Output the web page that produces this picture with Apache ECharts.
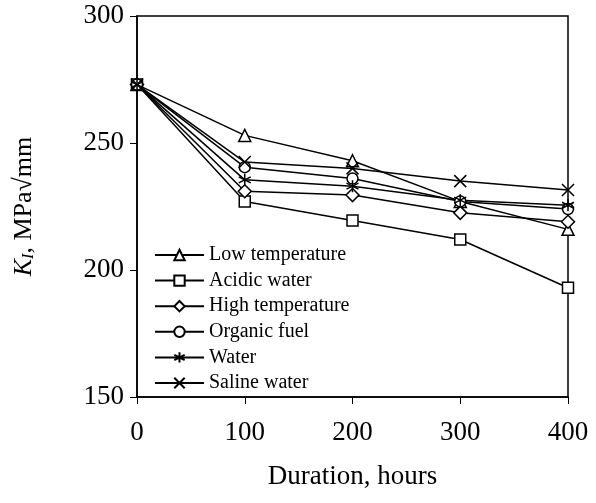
<!DOCTYPE html>
<html><head><meta charset="utf-8">
<script src="https://cdn.jsdelivr.net/npm/echarts@6/dist/echarts.min.js"></script>
<style>html,body{margin:0;padding:0;background:#fff}#c{width:596px;height:503px}</style>
</head><body><div id="c"></div>
<script>
const durations = [0, 100, 200, 300, 400];
const lowTemperature = [273, 253, 243, 227, 216];
const acidicWater = [273, 227, 219.5, 212, 193];
const highTemperature = [273, 231, 229.5, 222.5, 219];
const organicFuel = [273, 240.5, 236, 227, 224];
const water = [273, 235.5, 233, 227.5, 225.5];
const salineWater = [273, 242.5, 240, 235, 231.5];
const yTicks = [150, 200, 250, 300];
const xTicks = [0, 100, 200, 300, 400];

const F = '"Liberation Serif","Times New Roman",serif';
const X_PATH = 'path://M0,0L10,10M10,0L0,10';
const STAR_PATH = 'path://M5,0L5,10M0.7,2.5L9.3,7.5M0.7,7.5L9.3,2.5';

function mk(name, vals, symbol, size) {
  return {
    name, type: 'line', data: durations.map((d, i) => [d, vals[i]]),
    symbol, symbolSize: size, showAllSymbol: true,
    lineStyle: { color: '#000', width: 1.5 },
    itemStyle: { color: '#fff', borderColor: '#000', borderWidth: 1.5 },
    emphasis: { disabled: true }, animation: false
  };
}
const chart = echarts.init(document.getElementById('c'));
chart.setOption({
  backgroundColor: '#fff',
  animation: false,
  grid: { left: 137, right: 28, top: 16, bottom: 106, show: true, borderColor: '#000', borderWidth: 1.5, backgroundColor: 'transparent' },
  legend: {
    orient: 'vertical', left: 149, top: 240, itemWidth: 49, itemHeight: 13, itemGap: 5.6,
    textStyle: { fontFamily: F, fontSize: 20, color: '#000' },
    data: ['Low temperature', 'Acidic water', 'High temperature', 'Organic fuel', 'Water', 'Saline water']
  },
  xAxis: {
    type: 'value', min: 0, max: 400, interval: 100,
    name: 'Duration, hours', nameLocation: 'middle', nameGap: 66,
    nameTextStyle: { fontFamily: F, fontSize: 27, color: '#000' },
    axisLine: { lineStyle: { color: '#000', width: 1.5 } },
    axisTick: { show: true, length: 7, lineStyle: { color: '#000' } },
    axisLabel: { fontFamily: F, fontSize: 27, color: '#000', margin: 22,
      formatter: v => xTicks.includes(v) ? String(v) : '' },
    splitLine: { show: false }
  },
  yAxis: {
    type: 'value', min: 150, max: 300, interval: 50,
    name: '{k|K}{s|I}{n|, MPa√mm}', nameLocation: 'middle', nameGap: 100, nameRotate: 90,
    nameTextStyle: { fontFamily: F, fontSize: 26, color: '#000',
      rich: { k: { fontFamily: F, fontSize: 26, fontStyle: 'italic', color: '#000' },
              s: { fontFamily: F, fontSize: 16, fontStyle: 'italic', color: '#000', padding: [10, 0, 0, 0] },
              n: { fontFamily: F, fontSize: 26, color: '#000' } } },
    axisLine: { lineStyle: { color: '#000', width: 1.5 } },
    axisTick: { show: true, length: 7, lineStyle: { color: '#000' } },
    axisLabel: { fontFamily: F, fontSize: 27, color: '#000', margin: 13,
      formatter: v => yTicks.includes(v) ? String(v) : '' },
    splitLine: { show: false }
  },
  series: [
    mk('Low temperature', lowTemperature, 'triangle', 12),
    mk('Acidic water', acidicWater, 'rect', 11),
    mk('High temperature', highTemperature, 'diamond', 13),
    mk('Organic fuel', organicFuel, 'circle', 11),
    mk('Water', water, STAR_PATH, 12),
    mk('Saline water', salineWater, X_PATH, 12)
  ]
});
</script></body></html>
